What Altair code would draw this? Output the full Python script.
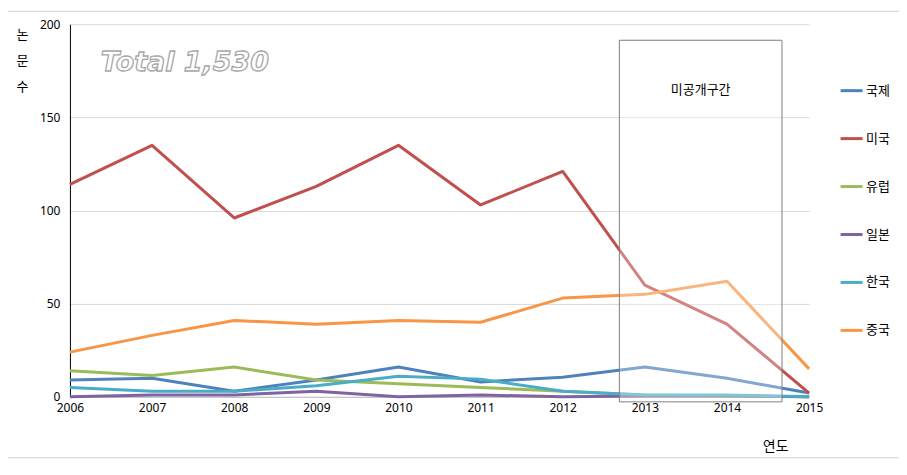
import altair as alt
import pandas as pd

years = [2006, 2007, 2008, 2009, 2010, 2011, 2012, 2013, 2014, 2015]
series_names = ["국제", "미국", "유럽", "일본", "한국", "중국"]
colors = ["#4F81BD", "#C0504D", "#9BBB59", "#8064A2", "#4BACC6", "#F79646"]

intl = [9, 10, 3, 9, 16, 8, 10.5, 16, 10, 2]
usa = [114, 135, 96, 113, 135, 103, 121, 60, 39, 2]
europe = [14, 11.5, 16, 9, 7, 5, 3, 1, 0.5, 0]
japan = [0, 1, 1, 3, 0, 1, 0, 0.5, 0.5, 0]
korea = [5, 3, 3, 6, 11, 9.5, 3, 1, 1, 0]
china = [24, 33, 41, 39, 41, 40, 53, 55, 62, 15]

values = [intl, usa, europe, japan, korea, china]
rows = []
for name, vals in zip(series_names, values):
    for y, v in zip(years, vals):
        rows.append({"연도": y, "논문수": v, "국가": name})
df = pd.DataFrame(rows)

box = pd.DataFrame([{"x": 2012.69, "x2": 2014.67, "y": 191.4, "y2": -2.7}])
box_label = pd.DataFrame([{"x": 2013.68, "y": 164.5, "t": "미공개구간"}])
total_label = pd.DataFrame([{"x": 2007.4, "y": 179, "t": "Total 1,530"}])

KFONT = "Noto Sans CJK KR"

xscale = alt.Scale(domain=[2006, 2015], nice=False, zero=False)
yscale = alt.Scale(domain=[0, 200], nice=False)

lines = alt.Chart(df).mark_line(strokeWidth=3, strokeJoin="round").encode(
    x=alt.X("연도:Q", scale=xscale,
            axis=alt.Axis(values=years, format="d", grid=False, ticks=False,
                          domainColor="#bfbfbf", labelFontSize=12, labelColor="#000",
                          labelFont="Noto Sans", labelPadding=6,
                          labelFlush=False, labelOverlap=False,
                          title="연도", titleFont=KFONT, titleFontSize=14,
                          titleFontWeight="normal", titleX=706, titleY=43,
                          titleAnchor="start", titleAlign="center",
                          titleBaseline="top")),
    y=alt.Y("논문수:Q", scale=yscale,
            axis=alt.Axis(values=[0, 50, 100, 150, 200], grid=True,
                          gridColor="#d9d9d9", ticks=False, domainColor="#000",
                          labelFontSize=12, labelColor="#000", labelFont="Noto Sans",
                          labelPadding=10,
                          title=["논", "문", "수"], titleAngle=0, titleFont=KFONT,
                          titleFontSize=13, titleFontWeight="normal",
                          titleLineHeight=26, titleX=-48, titleY=4,
                          titleAlign="center", titleBaseline="top")),
    color=alt.Color("국가:N",
                    scale=alt.Scale(domain=series_names, range=colors),
                    sort=series_names,
                    legend=alt.Legend(title=None, orient="none", legendX=770,
                                      legendY=54, symbolType="stroke",
                                      symbolStrokeWidth=3, symbolSize=484,
                                      rowPadding=28, labelFont=KFONT,
                                      labelFontSize=13, labelColor="#000",
                                      labelOffset=2)),
)

rect = alt.Chart(box).mark_rect(fill="white", fillOpacity=0.3, stroke="#808080",
                                strokeWidth=1).encode(
    x=alt.X("x:Q", scale=xscale), x2="x2:Q",
    y=alt.Y("y:Q", scale=yscale), y2="y2:Q",
)

btext = alt.Chart(box_label).mark_text(font=KFONT, fontSize=13, color="#000").encode(
    x=alt.X("x:Q", scale=xscale), y=alt.Y("y:Q", scale=yscale), text="t:N"
)

ttext = alt.Chart(total_label).mark_text(font="DejaVu Sans", fontSize=27,
                                         fontStyle="italic", fontWeight="bold",
                                         fill="white", stroke="#a8a8a8",
                                         strokeWidth=1.3).encode(
    x=alt.X("x:Q", scale=xscale), y=alt.Y("y:Q", scale=yscale), text="t:N"
)

frame = alt.Chart(box).mark_rect(fill=None, stroke="#d0d0d0", strokeWidth=1).encode(
    x=alt.value(-64), x2=alt.value(835), y=alt.value(-13), y2=alt.value(434)
)

chart = alt.layer(frame, lines, rect, btext, ttext).properties(
    width=740, height=373,
    autosize=alt.AutoSizeParams(type="none"),
    padding={"left": 62, "top": 16, "right": 90, "bottom": 72},
).configure_view(stroke=None)

chart.save("out.html", embed_options={"renderer": "svg", "actions": False})
